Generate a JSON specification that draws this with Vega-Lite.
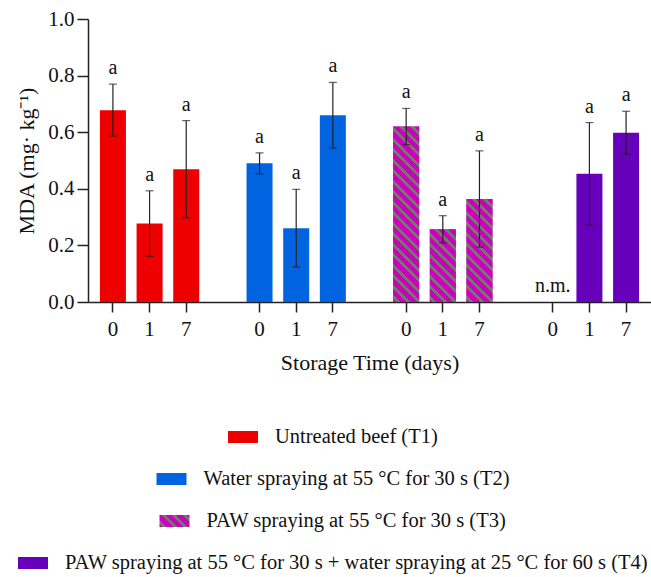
{
  "$schema": "https://vega.github.io/schema/vega-lite/v6.json",
  "width": 636,
  "height": 283,
  "padding": {"left": 15, "top": 8, "right": 0, "bottom": 0},
  "params": [
    {"name": "stripeStops", "value": [
      {"offset": 0, "color": "#CC00BB"},
      {"offset": 0.015, "color": "#CC00BB"}, {"offset": 0.015, "color": "#707A70"}, {"offset": 0.034, "color": "#707A70"}, {"offset": 0.034, "color": "#CC00BB"},
      {"offset": 0.065, "color": "#CC00BB"}, {"offset": 0.065, "color": "#707A70"}, {"offset": 0.084, "color": "#707A70"}, {"offset": 0.084, "color": "#CC00BB"},
      {"offset": 0.115, "color": "#CC00BB"}, {"offset": 0.115, "color": "#707A70"}, {"offset": 0.134, "color": "#707A70"}, {"offset": 0.134, "color": "#CC00BB"},
      {"offset": 0.165, "color": "#CC00BB"}, {"offset": 0.165, "color": "#707A70"}, {"offset": 0.184, "color": "#707A70"}, {"offset": 0.184, "color": "#CC00BB"},
      {"offset": 0.215, "color": "#CC00BB"}, {"offset": 0.215, "color": "#707A70"}, {"offset": 0.234, "color": "#707A70"}, {"offset": 0.234, "color": "#CC00BB"},
      {"offset": 0.265, "color": "#CC00BB"}, {"offset": 0.265, "color": "#707A70"}, {"offset": 0.284, "color": "#707A70"}, {"offset": 0.284, "color": "#CC00BB"},
      {"offset": 0.315, "color": "#CC00BB"}, {"offset": 0.315, "color": "#707A70"}, {"offset": 0.334, "color": "#707A70"}, {"offset": 0.334, "color": "#CC00BB"},
      {"offset": 0.365, "color": "#CC00BB"}, {"offset": 0.365, "color": "#707A70"}, {"offset": 0.384, "color": "#707A70"}, {"offset": 0.384, "color": "#CC00BB"},
      {"offset": 0.415, "color": "#CC00BB"}, {"offset": 0.415, "color": "#707A70"}, {"offset": 0.434, "color": "#707A70"}, {"offset": 0.434, "color": "#CC00BB"},
      {"offset": 0.465, "color": "#CC00BB"}, {"offset": 0.465, "color": "#707A70"}, {"offset": 0.484, "color": "#707A70"}, {"offset": 0.484, "color": "#CC00BB"},
      {"offset": 0.515, "color": "#CC00BB"}, {"offset": 0.515, "color": "#707A70"}, {"offset": 0.534, "color": "#707A70"}, {"offset": 0.534, "color": "#CC00BB"},
      {"offset": 0.565, "color": "#CC00BB"}, {"offset": 0.565, "color": "#707A70"}, {"offset": 0.584, "color": "#707A70"}, {"offset": 0.584, "color": "#CC00BB"},
      {"offset": 0.615, "color": "#CC00BB"}, {"offset": 0.615, "color": "#707A70"}, {"offset": 0.634, "color": "#707A70"}, {"offset": 0.634, "color": "#CC00BB"},
      {"offset": 0.665, "color": "#CC00BB"}, {"offset": 0.665, "color": "#707A70"}, {"offset": 0.684, "color": "#707A70"}, {"offset": 0.684, "color": "#CC00BB"},
      {"offset": 0.715, "color": "#CC00BB"}, {"offset": 0.715, "color": "#707A70"}, {"offset": 0.734, "color": "#707A70"}, {"offset": 0.734, "color": "#CC00BB"},
      {"offset": 0.765, "color": "#CC00BB"}, {"offset": 0.765, "color": "#707A70"}, {"offset": 0.784, "color": "#707A70"}, {"offset": 0.784, "color": "#CC00BB"},
      {"offset": 0.815, "color": "#CC00BB"}, {"offset": 0.815, "color": "#707A70"}, {"offset": 0.834, "color": "#707A70"}, {"offset": 0.834, "color": "#CC00BB"},
      {"offset": 0.865, "color": "#CC00BB"}, {"offset": 0.865, "color": "#707A70"}, {"offset": 0.884, "color": "#707A70"}, {"offset": 0.884, "color": "#CC00BB"},
      {"offset": 0.915, "color": "#CC00BB"}, {"offset": 0.915, "color": "#707A70"}, {"offset": 0.934, "color": "#707A70"}, {"offset": 0.934, "color": "#CC00BB"},
      {"offset": 0.965, "color": "#CC00BB"}, {"offset": 0.965, "color": "#707A70"}, {"offset": 0.984, "color": "#707A70"}, {"offset": 0.984, "color": "#CC00BB"},
      {"offset": 1, "color": "#CC00BB"}
    ]}
  ],
  "data": {"values": [
    {"group": "T1", "treatment": "Untreated beef (T1)", "day": "0", "mda": 0.678, "sd": 0.092, "sig": "a"},
    {"group": "T1", "treatment": "Untreated beef (T1)", "day": "1", "mda": 0.277, "sd": 0.116, "sig": "a"},
    {"group": "T1", "treatment": "Untreated beef (T1)", "day": "7", "mda": 0.469, "sd": 0.172, "sig": "a"},
    {"group": "T2", "treatment": "Water spraying at 55 °C for 30 s (T2)", "day": "0", "mda": 0.490, "sd": 0.037, "sig": "a"},
    {"group": "T2", "treatment": "Water spraying at 55 °C for 30 s (T2)", "day": "1", "mda": 0.261, "sd": 0.137, "sig": "a"},
    {"group": "T2", "treatment": "Water spraying at 55 °C for 30 s (T2)", "day": "7", "mda": 0.660, "sd": 0.116, "sig": "a"},
    {"group": "T3", "treatment": "PAW spraying at 55 °C for 30 s (T3)", "day": "0", "mda": 0.620, "sd": 0.064, "sig": "a"},
    {"group": "T3", "treatment": "PAW spraying at 55 °C for 30 s (T3)", "day": "1", "mda": 0.257, "sd": 0.048, "sig": "a"},
    {"group": "T3", "treatment": "PAW spraying at 55 °C for 30 s (T3)", "day": "7", "mda": 0.364, "sd": 0.170, "sig": "a"},
    {"group": "T4", "treatment": "PAW spraying at 55 °C for 30 s + water spraying at 25 °C for 60 s (T4)", "day": "0", "mda": null, "sd": null, "sig": "n.m."},
    {"group": "T4", "treatment": "PAW spraying at 55 °C for 30 s + water spraying at 25 °C for 60 s (T4)", "day": "1", "mda": 0.453, "sd": 0.181, "sig": "a"},
    {"group": "T4", "treatment": "PAW spraying at 55 °C for 30 s + water spraying at 25 °C for 60 s (T4)", "day": "7", "mda": 0.598, "sd": 0.076, "sig": "a"}
  ]},
  "transform": [
    {"calculate": "datum.group + '-' + datum.day", "as": "key"},
    {"calculate": "datum.mda == null ? null : datum.mda - datum.sd", "as": "lower"},
    {"calculate": "datum.mda == null ? null : datum.mda + datum.sd", "as": "upper"},
    {"calculate": "datum.mda == null ? 0 : datum.mda + datum.sd", "as": "labelY"}
  ],
  "encoding": {
    "x": {
      "field": "key", "type": "nominal", "title": "Storage Time (days)",
      "scale": {
        "domain": ["T1-0", "T1-1", "T1-7", "g1", "T2-0", "T2-1", "T2-7", "g2", "T3-0", "T3-1", "T3-7", "g3", "T4-0", "T4-1", "T4-7"],
        "paddingInner": 0, "paddingOuter": 0.18, "range": [73, 636]
      },
      "axis": {
        "values": ["T1-0", "T1-1", "T1-7", "T2-0", "T2-1", "T2-7", "T3-0", "T3-1", "T3-7", "T4-0", "T4-1", "T4-7"],
        "labelExpr": "split(datum.value, '-')[1]",
        "bandPosition": 0.5
      }
    }
  },
  "layer": [
    {
      "transform": [{"filter": "datum.group === 'T1'"}],
      "mark": {"type": "bar", "width": 26},
      "encoding": {
        "y": {"field": "mda", "type": "quantitative", "title": "MDA (mg· kg⁻¹)", "scale": {"domain": [0, 1], "nice": false},
              "axis": {"values": [0, 0.2, 0.4, 0.6, 0.8, 1.0], "format": ".1f", "offset": -73}},
        "color": {"field": "treatment", "type": "nominal", "scale": {"range": ["#EE0000"]}, "legend": {"title": null}}
      }
    },
    {
      "transform": [{"filter": "datum.group === 'T2'"}],
      "mark": {"type": "bar", "width": 26},
      "encoding": {
        "y": {"field": "mda", "type": "quantitative", "title": "MDA (mg· kg⁻¹)", "scale": {"domain": [0, 1], "nice": false}},
        "color": {"field": "treatment", "type": "nominal", "scale": {"range": ["#0064E0"]}, "legend": {"title": null}}
      }
    },
    {
      "transform": [{"filter": "datum.group === 'T3'"}],
      "mark": {"type": "bar", "width": 26},
      "encoding": {
        "y": {"field": "mda", "type": "quantitative", "title": "MDA (mg· kg⁻¹)", "scale": {"domain": [0, 1], "nice": false}},
        "color": {"field": "treatment", "type": "nominal",
          "scale": {"range": [{"expr": "{gradient: 'linear', x1: 0, y1: 1, x2: 6.03, y2: -1.41, stops: stripeStops}"}]},
          "legend": {"title": null}}
      }
    },
    {
      "transform": [{"filter": "datum.group === 'T4'"}],
      "mark": {"type": "bar", "width": 26},
      "encoding": {
        "y": {"field": "mda", "type": "quantitative", "title": "MDA (mg· kg⁻¹)", "scale": {"domain": [0, 1], "nice": false}},
        "color": {"field": "treatment", "type": "nominal", "scale": {"range": ["#6600BB"]}, "legend": {"title": null}}
      }
    },
    {
      "transform": [{"filter": "datum.group === 'T3'"}],
      "mark": {"type": "bar", "width": 26,
        "fill": {"expr": "{gradient: 'linear', x1: 0, y1: 1, x2: 210*26/(pow(datum.mda*height,2)+676), y2: 1 - 210*datum.mda*height/(pow(datum.mda*height,2)+676), stops: stripeStops}"}},
      "encoding": {
        "y": {"field": "mda", "type": "quantitative", "title": "MDA (mg· kg⁻¹)", "scale": {"domain": [0, 1], "nice": false}}
      }
    },
    {
      "transform": [{"filter": "datum.mda != null"}],
      "mark": {"type": "rule", "color": "#222", "strokeWidth": 1.2},
      "encoding": {
        "y": {"field": "lower", "type": "quantitative", "title": "MDA (mg· kg⁻¹)", "scale": {"domain": [0, 1], "nice": false}},
        "y2": {"field": "upper"}
      }
    },
    {
      "transform": [{"filter": "datum.mda != null"}],
      "mark": {"type": "tick", "orient": "horizontal", "size": 8, "thickness": 1.2, "color": "#222"},
      "encoding": {
        "y": {"field": "upper", "type": "quantitative", "title": "MDA (mg· kg⁻¹)", "scale": {"domain": [0, 1], "nice": false}}
      }
    },
    {
      "transform": [{"filter": "datum.mda != null"}],
      "mark": {"type": "tick", "orient": "horizontal", "size": 8, "thickness": 1.2, "color": "#222"},
      "encoding": {
        "y": {"field": "lower", "type": "quantitative", "title": "MDA (mg· kg⁻¹)", "scale": {"domain": [0, 1], "nice": false}}
      }
    },
    {
      "mark": {"type": "text", "baseline": "alphabetic", "dy": -10, "fontSize": 20, "font": "Liberation Serif", "color": "#111"},
      "encoding": {
        "y": {"field": "labelY", "type": "quantitative", "title": "MDA (mg· kg⁻¹)", "scale": {"domain": [0, 1], "nice": false}},
        "text": {"field": "sig"}
      }
    }
  ],
  "resolve": {"scale": {"color": "independent"}},
  "config": {
    "view": {"stroke": null},
    "font": "Liberation Serif",
    "axis": {
      "labelFont": "Liberation Serif", "titleFont": "Liberation Serif",
      "labelColor": "#111", "titleColor": "#111",
      "domainColor": "#222", "tickColor": "#222",
      "domainWidth": 1.5, "tickWidth": 1.5, "grid": false,
      "titleFontWeight": "normal", "labelFontSize": 21, "titleFontSize": 22
    },
    "axisX": {"tickSize": 10, "labelPadding": 6, "titlePadding": 13, "labelAngle": 0},
    "axisY": {"tickSize": 11, "labelPadding": 3, "titlePadding": 9},
    "legend": {
      "orient": "bottom",
      "labelFont": "Liberation Serif", "labelFontSize": 20.5, "labelColor": "#111",
      "symbolType": "M-1,-0.4H1V0.4H-1Z", "symbolSize": 900, "symbolStrokeWidth": 0,
      "labelOffset": 17, "labelLimit": 800, "offset": 49,
      "layout": {"bottom": {"anchor": "middle", "direction": "vertical", "center": true, "margin": 16}}
    }
  }
}
